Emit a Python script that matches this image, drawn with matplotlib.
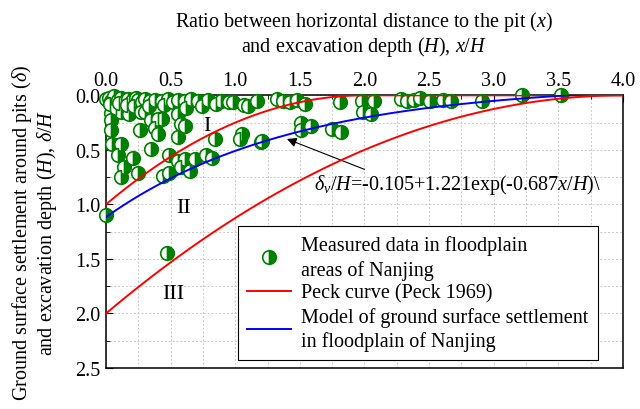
import numpy as np
import matplotlib
matplotlib.use("Agg")
import matplotlib.pyplot as plt
from matplotlib.ticker import MultipleLocator

plt.rcParams['font.family'] = ['Liberation Serif', 'DejaVu Serif']
plt.rcParams['mathtext.fontset'] = 'custom'
plt.rcParams['mathtext.rm'] = 'Liberation Serif'
plt.rcParams['mathtext.it'] = 'Liberation Serif:italic'
plt.rcParams['font.size'] = 14.5

meas_x = [0.00, 0.02, 0.04, 0.06, 0.09, 0.12, 0.14, 0.17, 0.20, 0.23, 0.25, 0.28, 0.30,
          0.34, 0.38, 0.43, 0.48, 0.52, 0.56, 0.61, 0.66, 0.71, 0.79, 0.89, 0.95,
          0.98, 1.07, 1.17, 1.32, 1.37, 1.42, 1.48, 1.54, 1.81, 1.98, 2.07, 2.28,
          2.33, 2.38, 2.43, 2.51, 2.61, 2.67, 2.91, 3.22, 3.52,
          0.04, 0.12, 0.18, 0.27, 0.30, 0.43, 0.56, 0.08, 0.22,
          0.04, 0.35, 0.40, 0.58,
          0.04, 0.26, 0.38, 0.40, 0.56, 0.61,
          0.05, 0.12, 0.35, 0.84, 1.05, 1.04, 1.20, 1.21,
          0.14, 0.21, 0.12, 0.25, 0.49, 0.56, 0.61, 0.69, 0.77, 0.82, 0.44, 0.49,
          0.58, 0.65, 0.09,
          1.51, 1.51, 1.59, 1.75, 1.82, 1.99, 2.05, 1.10,
          0.00, 0.47,
          0.03, 0.10, 0.16, 0.33, 0.45, 0.62, 0.74, 0.85]
meas_y = [0.03, 0.02, 0.05, 0.01, 0.04, 0.02, 0.06, 0.03, 0.05, 0.02, 0.04, 0.06, 0.03,
          0.05, 0.04, 0.05, 0.03, 0.06, 0.04, 0.05, 0.03, 0.05, 0.04, 0.05, 0.06,
          0.06, 0.09, 0.05, 0.03, 0.05, 0.06, 0.04, 0.08, 0.06, 0.05, 0.05, 0.03,
          0.05, 0.04, 0.02, 0.05, 0.04, 0.05, 0.05, 0.00, 0.00,
          0.16, 0.15, 0.17, 0.15, 0.15, 0.22, 0.17, 0.12, 0.10,
          0.23, 0.23, 0.22, 0.26,
          0.32, 0.32, 0.30, 0.35, 0.38, 0.28,
          0.45, 0.45, 0.49, 0.40, 0.35, 0.40, 0.43, 0.42,
          0.66, 0.57, 0.75, 0.71, 0.55, 0.60, 0.58, 0.58, 0.55, 0.57, 0.74, 0.71,
          0.66, 0.69, 0.55,
          0.25, 0.32, 0.28, 0.31, 0.34, 0.15, 0.17, 0.10,
          1.10, 1.45,
          0.08, 0.07, 0.09, 0.10, 0.09, 0.12, 0.10, 0.08]

# curve coefficients
peck_I = 1.0      # zone I / II boundary, reaches 0 at x/H = 2
peck_II = 2.0     # zone II / III boundary, reaches 0 at x/H = 4
model_a, model_b, model_c = -0.105, 1.221, -0.687

fig = plt.figure(figsize=(6.4, 4.1), dpi=100)
ax = fig.add_axes([0.1656, 0.1, 0.8078, 0.665])

xs = np.linspace(0, 4, 300)
y1 = peck_I * np.clip(1 - xs / 2, 0, None) ** 2
y2 = peck_II * (1 - xs / 4) ** 2
ym = model_a + model_b * np.exp(model_c * xs)

ax.plot(meas_x, meas_y, 'o', ls='none', ms=9.8, fillstyle='right',
        mfc='green', mfcalt='white', mec='green', mew=1.2, clip_on=False, zorder=3,
        label='Measured data in floodplain\nareas of Nanjing')
ax.plot(xs, y1, color='red', lw=1.4, zorder=4, label='Peck curve (Peck 1969)')
ax.plot(xs, y2, color='red', lw=1.4, zorder=4)
ax.plot(xs, ym, color='blue', lw=1.4, zorder=4,
        label='Model of ground surface settlement\nin floodplain of Nanjing')

ax.set_xlim(0, 4)
ax.set_ylim(2.5, 0)
ax.xaxis.set_major_locator(MultipleLocator(0.5))
ax.yaxis.set_major_locator(MultipleLocator(0.5))
ax.xaxis.set_minor_locator(MultipleLocator(0.25))
ax.yaxis.set_minor_locator(MultipleLocator(0.25))
ax.xaxis.set_major_formatter(plt.FormatStrFormatter('%.1f'))
ax.yaxis.set_major_formatter(plt.FormatStrFormatter('%.1f'))
ax.xaxis.tick_top()
ax.xaxis.set_label_position('top')
ax.tick_params(which='both', direction='in', top=True, bottom=False, left=True, right=False)
ax.tick_params(which='major', length=5, pad=4)
ax.tick_params(which='minor', length=3)
ax.grid(True, which='both', ls=(0, (2, 2)), color='#c8c8c8', lw=0.7)
ax.set_axisbelow(True)
for s in ax.spines.values():
    s.set_linewidth(1.1)

ax.set_xlabel('Ratio between horizontal distance to the pit ($x$)\n'
              'and excavation depth ($H$), $x$/$H$', labelpad=14, linespacing=1.05)
ax.set_ylabel('Ground surface settlement around pits ($\\delta$)\n'
              'and excavation depth ($H$), $\\delta$/$H$', labelpad=12, linespacing=1.05)

ax.text(0.78, 0.28, 'I', ha='center', va='center', fontsize=16)
ax.text(0.60, 1.03, 'II', ha='center', va='center', fontsize=16)
ax.text(0.52, 1.82, 'III', ha='center', va='center', fontsize=16)

ax.annotate('$\\delta_v/H$=-0.105+1.221exp(-0.687$x$/$H$)\\',
            xy=(1.40, 0.40), xytext=(1.61, 0.86), va='baseline',
            arrowprops=dict(arrowstyle='-|>', color='black', lw=0.8,
                            shrinkA=0, shrinkB=0, mutation_scale=14,
                            relpos=(0.2, 1.0)))

leg = ax.legend(loc='upper left', bbox_to_anchor=(0.255, 0.52), fancybox=False,
                edgecolor='black', framealpha=1, handlelength=2.2,
                borderpad=0.45, labelspacing=0.2, handletextpad=0.5,
                borderaxespad=0)
leg.get_frame().set_linewidth(0.8)
for t in leg.get_texts():
    t.set_linespacing(1.3)

fig.savefig('out.png', dpi=100)
